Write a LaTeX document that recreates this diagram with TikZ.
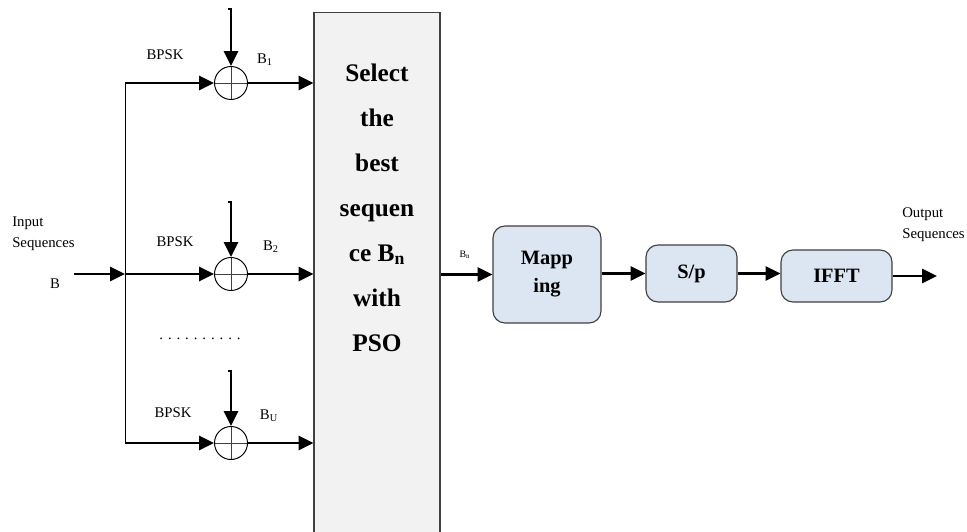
\documentclass[tikz,border=0pt]{standalone}
\usepackage{fontspec}
\setmainfont{Liberation Serif}
\usepackage{xcolor}
\usetikzlibrary{arrows.meta,positioning,calc}
\definecolor{boxblue}{RGB}{220,230,242}
\definecolor{boxgray}{RGB}{242,242,242}
\definecolor{edgegray}{RGB}{64,64,64}

\begin{document}
\begin{tikzpicture}[x=0.025cm,y=-0.025cm,
arr/.style={-{Triangle[length=10.5pt,width=10pt]},line width=1.5pt},
lbl/.style={inner sep=0pt,font=\fontsize{10.5}{15}\selectfont},
adder/.style={circle,draw,line width=0.7pt,minimum size=0.825cm,inner sep=0pt,
path picture={\draw[line width=0.5pt,edgegray] (path picture bounding box.north) -- (path picture bounding box.south) (path picture bounding box.west) -- (path picture bounding box.east);}},
blk/.style={draw=edgegray,line width=0.8pt,fill=boxblue,rounded corners=0.3cm,
align=center,font=\fontsize{14.5}{20}\selectfont\bfseries}]
\useasboundingbox (0,0) rectangle (967,532);
\clip (0,0) rectangle (967,532);

\node (sel) at (377,279) [draw=edgegray,line width=0.8pt,fill=boxgray,minimum width=3.15cm,minimum height=13.3cm] {};
\node (seltxt) at (377,207.5) [align=center,font=\fontsize{18}{32}\selectfont\bfseries] {Select\\the\\best\\sequen\\ce B\textsubscript{n}\\with\\PSO};

\node (add1) at (231,83) [adder] {};
\node (add2) at (231,274) [adder] {};
\node (add3) at (231,443) [adder] {};
\coordinate (br1) at (125,83);
\coordinate (br2) at (125,274);
\coordinate (br3) at (125,443);
\coordinate (inB) at (74,274);
\coordinate (t1) at (228,9);
\coordinate (t2) at (228,202);
\coordinate (t3) at (228,371);

\node (bpsk1) at (165,55) [lbl] {BPSK};
\node (bpsk2) at (175,242) [lbl] {BPSK};
\node (bpsk3) at (173,413) [lbl] {BPSK};
\node (b1) at (265,60) [lbl] {B\textsubscript{1}};
\node (b2) at (271,247) [lbl] {B\textsubscript{2}};
\node (bu) at (269,416) [lbl] {B\textsubscript{U}};
\node (dots) at (200,339) [lbl] {. . . . . . . . . .};
\node (input) at (12,233.5) [lbl,anchor=west,align=left] {Input\\Sequences};
\node (b) at (55,284) [lbl] {B};

\node (map) at (547,274.5) [blk,minimum width=2.7cm,minimum height=2.425cm] {Mapp\\ing};
\node (sp) at (691.5,273.5) [blk,minimum width=2.275cm,minimum height=1.425cm] {S/p};
\node (ifft) at (836.5,276) [blk,minimum width=2.775cm,minimum height=1.3cm] {IFFT};
\node (bn) at (465,255) [inner sep=0pt,font=\fontsize{7}{8}\selectfont] {B\textsubscript{n}};
\coordinate (out) at (937,277);
\node (output) at (902,225) [lbl,anchor=west,align=left] {Output\\Sequences};

\draw[line width=0.7pt] (br1) -- (br3);
\draw[arr] (inB) -- (br2);
\draw[arr] (br1) -- (add1);
\draw[arr] (br2) -- (add2);
\draw[arr] (br3) -- (add3);
\draw[arr] (t1) -| (add1);
\draw[arr] (t2) -| (add2);
\draw[arr] (t3) -| (add3);
\draw[arr] (add1) -- (add1 -| sel.west);
\draw[arr] (add2) -- (add2 -| sel.west);
\draw[arr] (add3) -- (add3 -| sel.west);
\draw[arr] (sel.east |- map.west) -- (map.west);
\draw[arr] (map.east |- sp.west) -- (sp.west);
\draw[arr] (sp.east) -- (sp.east -| ifft.west);
\draw[arr] (ifft.east) -- (ifft.east -| out);

\end{tikzpicture}
\end{document}
